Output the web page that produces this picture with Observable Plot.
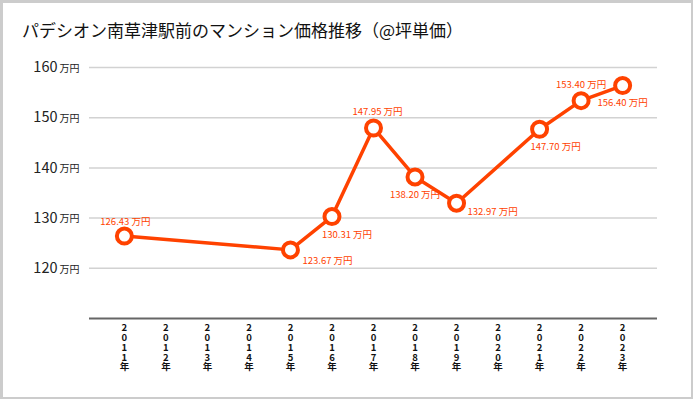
<!DOCTYPE html>
<html><head><meta charset="utf-8">
<script src="https://cdn.jsdelivr.net/npm/d3@7"></script>
<script src="https://cdn.jsdelivr.net/npm/@observablehq/plot@0.6"></script>
<style>
body{margin:0;background:#fff;}
#frame{position:absolute;left:0;top:0;width:693px;height:399px;box-sizing:border-box;border-style:solid;border-color:#cccccc;border-width:3px 2px 2px 3px;}
#title{position:absolute;left:22px;top:20px;font-family:"Noto Sans CJK JP";font-size:17px;line-height:20px;color:#111;font-weight:400;white-space:nowrap;}
#chart{position:absolute;left:0;top:50px;}
</style></head><body>
<div id="frame"></div>
<div id="title">パデシオン南草津駅前のマンション価格推移（@坪単価）</div>
<div id="chart"></div>
<script>
const allYears = ["2011","2012","2013","2014","2015","2016","2017","2018","2019","2020","2021","2022","2023"];
const years = ["2011","2015","2016","2017","2018","2019","2021","2022","2023"];
const prices = [126.43,123.67,130.31,147.95,138.20,132.97,147.70,153.40,156.40];
const yTicks = [120,130,140,150,160];
const unit = "万円";
const yearSuffix = "年";

const color = "#ff4200";
const font = "Noto Sans CJK JP";
const rows = years.map((year, i) => ({year, price: prices[i]}));

// label placement relative to each point (layout only)
const placement = {
  "2011": {dx: 1, dy: -14, anchor: "middle"},
  "2015": {dx: 12, dy: 11, anchor: "start"},
  "2016": {dx: 15, dy: 18, anchor: "middle"},
  "2017": {dx: 4, dy: -16, anchor: "middle"},
  "2018": {dx: 0, dy: 18, anchor: "middle"},
  "2019": {dx: 11, dy: 9, anchor: "start"},
  "2021": {dx: 16, dy: 18, anchor: "middle"},
  "2022": {dx: 0, dy: -16, anchor: "middle"},
  "2023": {dx: 0, dy: 17, anchor: "middle"}
};

const labelMarks = Object.entries(placement).map(([yr, p]) =>
  Plot.text(rows.filter(d => d.year === yr), {
    x: "year", y: "price",
    text: d => d.price.toFixed(2) + " " + unit,
    dx: p.dx, dy: p.dy, textAnchor: p.anchor,
    fill: color, fontSize: 9.5, fontFamily: font
  })
);

const chart = Plot.plot({
  width: 693,
  height: 346,
  marginTop: 17,
  marginBottom: 78,
  marginLeft: 89,
  marginRight: 36,
  style: {background: "transparent", overflow: "visible", fontFamily: font},
  x: {type: "point", domain: allYears, padding: 0.84, round: false, axis: null},
  y: {domain: [110, 160], axis: null},
  marks: [
    Plot.ruleY(yTicks, {stroke: "#d2d2d2", strokeWidth: 1.5}),
    Plot.ruleY([110], {stroke: "#666666", strokeWidth: 2}),
    Plot.text(yTicks, {y: d => d, text: d => String(d), frameAnchor: "left", textAnchor: "end", dx: -32, fontSize: 14.5, fill: "#222", fontFamily: font}),
    Plot.text(yTicks, {y: d => d, text: () => unit, frameAnchor: "left", textAnchor: "start", dx: -30, dy: 1, fontSize: 10, fill: "#222", fontFamily: font}),
    Plot.text(allYears, {x: d => d, text: d => [...(d + yearSuffix)].join("\n"), frameAnchor: "bottom", lineAnchor: "top", dy: 5, fontSize: 9.5, lineHeight: 1.05, fontWeight: "bold", fill: "#111", fontFamily: font}),
    Plot.line(rows, {x: "year", y: "price", stroke: color, strokeWidth: 3.5}),
    Plot.dot(rows, {x: "year", y: "price", r: 7.5, fill: "white", stroke: color, strokeWidth: 4}),
    ...labelMarks
  ]
});
document.getElementById("chart").appendChild(chart);
</script>
</body></html>
